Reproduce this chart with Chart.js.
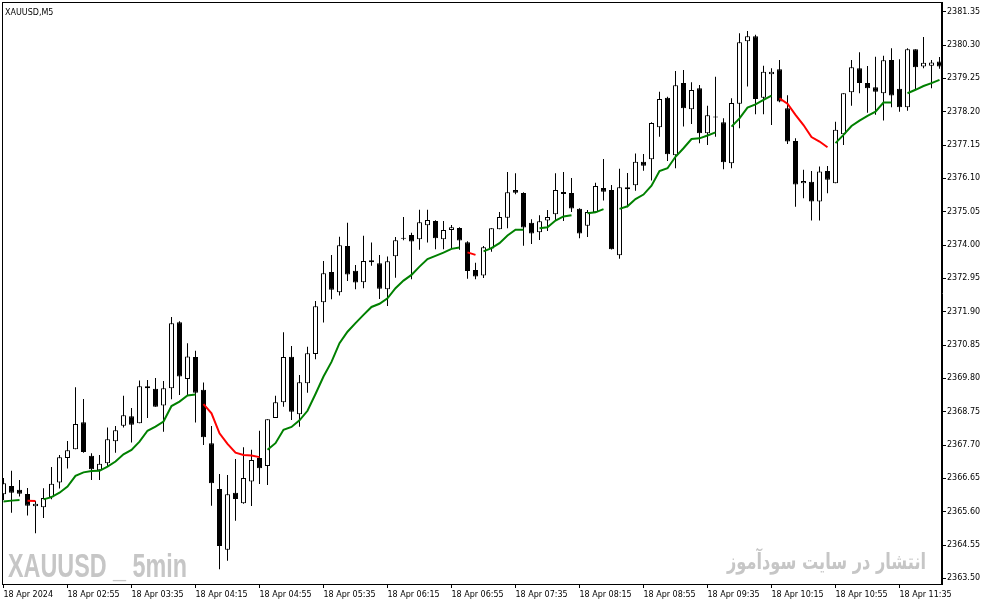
<!DOCTYPE html>
<html>
<head>
<meta charset="utf-8">
<script src="https://cdn.jsdelivr.net/npm/chart.js@4.4.1/dist/chart.umd.min.js"></script>
<style>
html, body { margin: 0; padding: 0; background: #fff; }
</style>
</head>
<body>
<canvas id="chart" width="987" height="605"></canvas>
<script>
// XAUUSD M5 candles, 18 Apr 2024 from 02:15
const opens = [2366.15,2366.41,2366.29,2366.16,2365.77,2365.74,2366.06,2366.52,2367.29,2367.57,
  2368.42,2367.36,2366.91,2367.13,2367.82,2368.31,2368.61,2368.39,2369.55,2369.47,
  2368.95,2369.49,2371.57,2369.78,2370.47,2369.44,2367.76,2366.32,2364.40,2366.20,
  2365.87,2366.55,2367.29,2367.04,2368.55,2369.05,2370.48,2368.67,2369.65,2370.57,
  2372.20,2373.15,2372.51,2373.97,2373.19,2372.83,2373.46,2373.43,2372.61,2373.65,
  2374.20,2374.32,2374.18,2374.62,2374.76,2374.18,2374.47,2374.54,2374.09,2373.21,
  2373.04,2373.89,2374.50,2374.86,2375.73,2375.64,2374.70,2374.40,2374.77,2374.97,
  2375.67,2375.64,2375.14,2374.61,2375.03,2375.80,2375.73,2373.68,2375.76,2375.88,
  2376.62,2376.70,2377.71,2378.64,2376.83,2379.10,2378.28,2378.94,2377.52,2378.02,
  2377.87,2376.58,2378.45,2380.42,2380.58,2378.64,2379.38,2379.54,2378.31,2377.28,
  2375.95,2375.99,2375.37,2376.33,2375.95,2377.49,2378.81,2379.57,2379.10,2378.97,
  2378.78,2379.83,2378.92,2378.34,2380.17,2379.62,2379.65,2379.78];
const highs = [2366.66,2366.89,2366.60,2366.35,2365.94,2366.34,2367.01,2367.39,2367.83,2369.52,
  2369.15,2367.44,2367.39,2368.25,2368.30,2369.25,2368.87,2369.73,2369.75,2369.81,
  2369.72,2371.73,2371.60,2370.91,2370.67,2369.67,2368.30,2366.79,2366.76,2367.26,
  2367.63,2367.55,2368.15,2368.51,2369.25,2371.25,2370.82,2369.91,2370.80,2372.24,
  2373.50,2373.69,2374.26,2374.70,2373.37,2374.29,2374.08,2373.69,2373.64,2374.25,
  2374.88,2374.39,2375.11,2375.11,2374.78,2374.76,2374.63,2374.56,2374.12,2373.44,
  2373.97,2374.53,2375.04,2376.30,2376.26,2375.66,2374.81,2374.94,2375.10,2376.26,
  2376.30,2376.11,2375.16,2375.10,2375.96,2376.71,2375.89,2376.40,2376.27,2376.88,
  2376.87,2377.87,2378.83,2378.67,2379.48,2379.51,2379.13,2379.04,2378.39,2379.30,
  2377.99,2378.62,2380.67,2380.74,2380.62,2379.65,2379.57,2379.83,2378.72,2377.36,
  2376.37,2376.33,2376.47,2376.49,2377.88,2378.78,2379.83,2380.07,2379.64,2379.93,
  2379.96,2380.20,2379.85,2380.20,2380.17,2380.55,2379.83,2379.92];
const lows = [2365.97,2365.57,2366.08,2365.48,2364.92,2365.40,2365.99,2366.33,2366.96,2367.57,
  2367.46,2366.60,2366.60,2367.02,2367.46,2368.25,2367.78,2368.39,2368.55,2368.91,
  2368.12,2369.14,2369.28,2369.28,2368.41,2367.70,2365.79,2363.79,2364.06,2365.32,
  2365.85,2365.78,2366.47,2366.44,2368.55,2368.91,2368.49,2368.28,2369.35,2370.40,
  2371.56,2372.29,2372.41,2372.87,2372.61,2372.64,2373.35,2372.30,2372.08,2372.97,
  2374.15,2372.92,2373.85,2374.08,2373.87,2373.87,2373.90,2373.85,2372.94,2372.92,
  2372.96,2373.79,2374.50,2374.53,2375.60,2373.98,2374.03,2374.16,2374.44,2374.76,
  2374.76,2375.04,2374.21,2374.25,2375.03,2375.40,2373.86,2373.57,2375.19,2375.71,
  2376.34,2376.03,2377.41,2376.65,2376.42,2377.73,2377.81,2377.21,2377.15,2377.41,
  2376.39,2376.42,2377.68,2378.99,2378.12,2378.12,2377.78,2378.50,2377.18,2375.21,
  2375.47,2374.77,2374.77,2375.63,2375.95,2377.15,2378.39,2378.78,2378.17,2378.10,
  2377.92,2378.34,2378.20,2378.23,2378.89,2379.57,2378.94,2379.55];
const closes = [2366.50,2366.20,2366.17,2365.79,2365.85,2366.03,2366.48,2367.32,2367.54,2368.36,
  2367.48,2366.94,2367.11,2367.88,2368.17,2368.64,2368.34,2369.55,2369.49,2368.91,
  2369.49,2371.54,2369.86,2370.49,2369.35,2367.95,2366.50,2364.52,2366.15,2366.00,
  2366.66,2367.23,2366.97,2368.51,2369.05,2370.47,2368.75,2369.68,2370.59,2372.07,
  2373.11,2372.59,2373.99,2373.07,2372.82,2373.50,2373.52,2372.62,2373.49,2374.15,
  2374.20,2374.11,2374.72,2374.79,2374.21,2374.47,2374.56,2374.14,2373.18,2373.01,
  2373.93,2374.53,2374.88,2375.66,2375.65,2374.55,2374.36,2374.75,2374.88,2375.73,
  2375.61,2375.15,2374.36,2375.04,2375.86,2375.68,2373.87,2375.82,2375.82,2376.62,
  2376.50,2377.84,2378.60,2376.86,2379.03,2378.31,2378.88,2377.52,2378.09,2378.02,
  2376.61,2378.47,2380.39,2380.58,2378.60,2379.46,2379.46,2378.52,2377.26,2375.91,
  2376.02,2375.37,2376.32,2376.06,2377.63,2378.78,2379.60,2379.10,2378.94,2378.83,
  2379.82,2378.71,2378.34,2380.17,2379.60,2379.74,2379.75,2379.62];

// moving average and its colour: 1 = rising (green), -1 = falling (red)
const ma = [2365.92,2365.95,2365.97,2365.95,2365.94,2365.99,2366.06,2366.20,2366.39,2366.73,
  2366.84,2366.88,2366.89,2367.02,2367.18,2367.41,2367.55,2367.81,2368.15,2368.28,
  2368.44,2368.93,2369.07,2369.26,2369.29,2368.99,2368.70,2368.07,2367.74,2367.46,
  2367.39,2367.37,2367.32,2367.55,2367.76,2368.18,2368.27,2368.48,2368.78,2369.31,
  2369.86,2370.32,2370.91,2371.27,2371.54,2371.80,2372.05,2372.15,2372.32,2372.64,
  2372.88,2373.06,2373.32,2373.56,2373.66,2373.76,2373.88,2373.92,2373.77,2373.69,
  2373.80,2373.90,2374.06,2374.30,2374.48,2374.48,2374.46,2374.53,2374.56,2374.77,
  2374.90,2374.94,2374.92,2375.00,2375.03,2375.13,2375.10,2375.14,2375.22,2375.45,
  2375.59,2375.87,2376.33,2376.42,2376.78,2377.05,2377.34,2377.36,2377.45,2377.55,
  2377.52,2377.73,2377.99,2378.33,2378.43,2378.57,2378.71,2378.62,2378.45,2378.10,
  2377.78,2377.40,2377.26,2377.08,2377.21,2377.47,2377.75,2377.92,2378.07,2378.20,
  2378.49,2378.49,2378.47,2378.78,2378.89,2379.01,2379.10,2379.20];
const maTrend = [1,1,1,-1,-1,1,1,1,1,1, 1,1,1,1,1,1,1,1,1,1,
  1,1,1,1,1,-1,-1,-1,-1,-1, -1,-1,-1,1,1,1,1,1,1,1,
  1,1,1,1,1,1,1,1,1,1, 1,1,1,1,1,1,1,1,-1,-1,
  1,1,1,1,1,1,-1,1,1,1, 1,1,-1,1,1,1,-1,1,1,1,
  1,1,1,1,1,1,1,1,1,1, -1,1,1,1,1,1,1,-1,-1,-1,
  -1,-1,-1,-1,1,1,1,1,1,1, 1,1,-1,1,1,1,1,1];

const tickBars = [0, 8, 16, 24, 32, 40, 48, 56, 64, 72, 80, 88, 96, 104, 112];
const tickLabels = ['18 Apr 2024','18 Apr 02:55','18 Apr 03:35','18 Apr 04:15','18 Apr 04:55',
  '18 Apr 05:35','18 Apr 06:15','18 Apr 06:55','18 Apr 07:35','18 Apr 08:15','18 Apr 08:55',
  '18 Apr 09:35','18 Apr 10:15','18 Apr 10:55','18 Apr 11:35'];
const priceTicks = [2363.50, 2364.55, 2365.60, 2366.65, 2367.70, 2368.75, 2369.80, 2370.85, 2371.90,
  2372.95, 2374.00, 2375.05, 2376.10, 2377.15, 2378.20, 2379.25, 2380.30, 2381.35];

const bars = opens.map((o, i) => i);
const wicks = bars.map(i => ({x: i, y: [lows[i], highs[i]]}));
const bodies = bars.map(i => ({x: i, y: [opens[i], closes[i]]}));
const bodyColors = bars.map(i => closes[i] > opens[i] ? '#ffffff' : '#000000');
const maUp = bars.map(i => ({x: i, y: maTrend[i] > 0 ? ma[i] : null}));
const maDown = bars.map(i => ({x: i, y: maTrend[i] < 0 ? ma[i] : null}));

const axisFont = { family: '"DejaVu Sans", sans-serif', size: 8 };

// squeeze a string to a given width
function fitText(c, text, font, x, y, width) {
    c.font = font;
    const w = c.measureText(text).width;
    c.save();
    c.translate(x, y);
    c.scale(width / w, 1);
    c.fillText(text, 0, 0);
    c.restore();
}

const frame = {
    id: 'frame',
    beforeDatasetsDraw(chart) {
        const c = chart.ctx;
        c.save();
        c.fillStyle = '#c6c6c6';
        c.textAlign = 'left';
        c.textBaseline = 'alphabetic';
        fitText(c, 'XAUUSD _ 5min', 'bold 33px "Liberation Sans Narrow", "Liberation Sans", sans-serif', 8, 577, 179);
        fitText(c, 'انتشار در سایت سودآموز', 'bold 22px "DejaVu Sans", sans-serif', 727, 569, 199);
        c.restore();
    },
    afterDraw(chart) {
        const c = chart.ctx, a = chart.chartArea;
        c.save();
        c.strokeStyle = '#000';
        c.lineWidth = 1;
        c.strokeRect(a.left + 0.5, a.top + 0.5, a.right - a.left - 1, a.bottom - a.top);
        c.fillStyle = '#000';
        c.font = '8px "DejaVu Sans", sans-serif';
        c.textBaseline = 'alphabetic';
        c.fillText('XAUUSD,M5', 5, 15);
        c.restore();
    }
};

const chart = document.querySelector('#chart').getContext('2d');

new Chart(chart, {
    type: 'bar',
    data: {
        datasets: [
            {
                type: 'bar',
                data: wicks,
                grouped: false,
                barThickness: 1,
                backgroundColor: '#000',
                borderWidth: 0,
                inflateAmount: 0,
                order: 3
            },
            {
                type: 'bar',
                data: bodies,
                grouped: false,
                barThickness: 5,
                backgroundColor: bodyColors,
                borderColor: '#000',
                borderWidth: 1,
                borderSkipped: false,
                minBarLength: 1,
                inflateAmount: 0,
                order: 2
            },
            {
                type: 'line',
                data: maUp,
                borderColor: '#008000',
                borderWidth: 2,
                pointRadius: 0,
                spanGaps: false,
                tension: 0,
                order: 1
            },
            {
                type: 'line',
                data: maDown,
                borderColor: '#ff0000',
                borderWidth: 2,
                pointRadius: 0,
                spanGaps: false,
                tension: 0,
                order: 1
            }
        ]
    },
    options: {
        responsive: false,
        animation: false,
        layout: { padding: { left: 2, top: 2, right: 0, bottom: 0 } },
        plugins: {
            legend: { display: false },
            tooltip: { enabled: false }
        },
        scales: {
            x: {
                type: 'linear',
                offset: false,
                min: -0.1875,
                max: 117.3125,
                afterBuildTicks: s => { s.ticks = tickBars.map(v => ({value: v})); },
                afterFit: s => { s.height = 21; s.paddingLeft = 0; s.paddingRight = 0; },
                ticks: {
                    autoSkip: false,
                    maxRotation: 0,
                    minRotation: 0,
                    align: 'start',
                    padding: 2,
                    color: '#000',
                    font: axisFont,
                    callback: (v, i) => tickLabels[i]
                },
                grid: { offset: false, drawOnChartArea: false, tickLength: 4, color: '#000' },
                border: { color: '#000' }
            },
            y: {
                position: 'right',
                min: 2363.324,
                max: 2381.655,
                afterBuildTicks: s => { s.ticks = priceTicks.map(v => ({value: v})); },
                afterFit: s => { s.width = 45; s.paddingTop = 0; s.paddingBottom = 0; },
                ticks: {
                    padding: 1,
                    color: '#000',
                    font: axisFont,
                    callback: v => Number(v).toFixed(2)
                },
                grid: { drawOnChartArea: false, tickLength: 4, color: '#000' },
                border: { color: '#000' }
            }
        }
    },
    plugins: [frame]
});
</script>
</body>
</html>
